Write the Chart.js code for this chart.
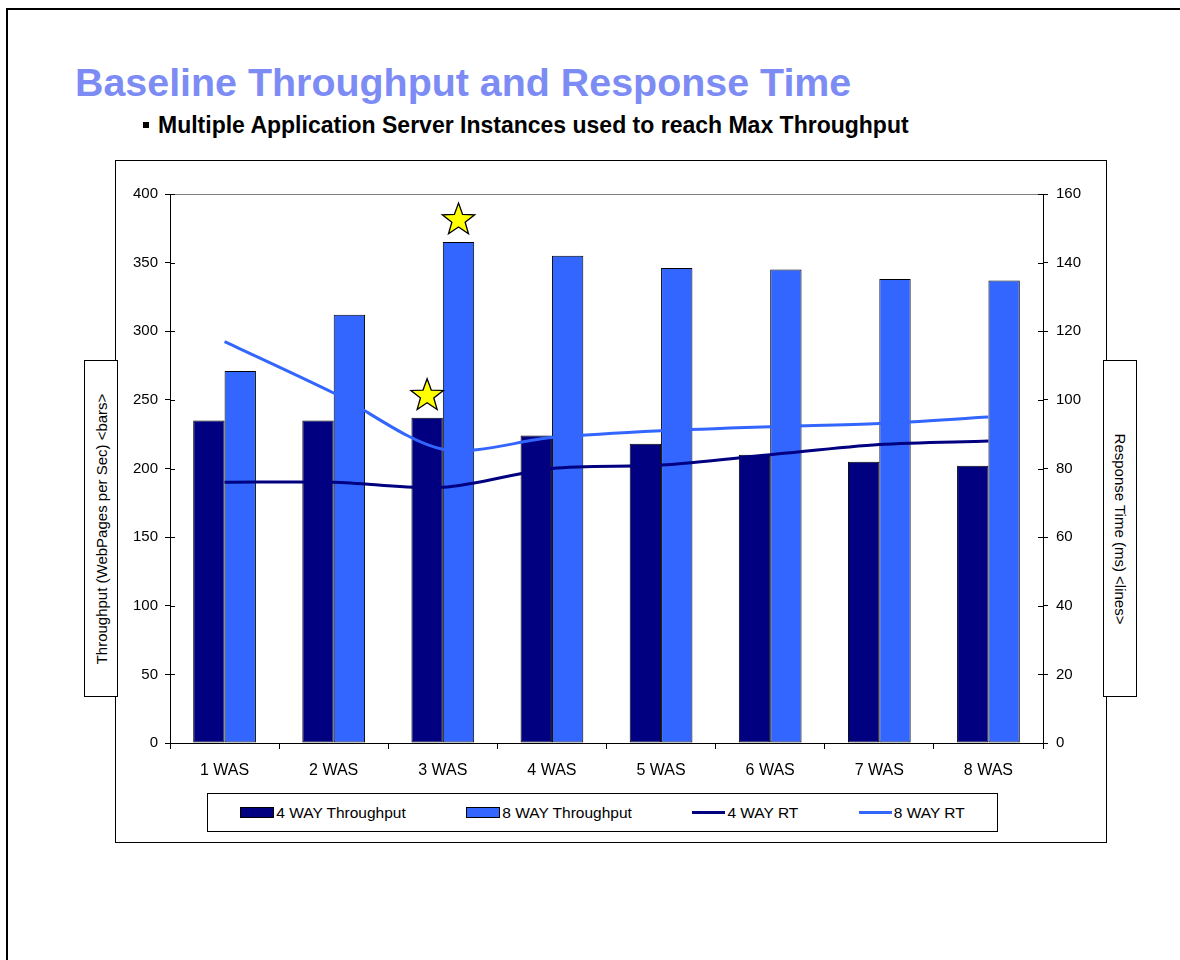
<!DOCTYPE html>
<html>
<head>
<meta charset="utf-8">
<script src="https://cdn.jsdelivr.net/npm/chart.js@4.4.1/dist/chart.umd.min.js"></script>
<style>
  body { margin: 0; background: #fff; font-family: "Liberation Sans", Arial, sans-serif; }
  #page { position: relative; width: 1180px; height: 960px; overflow: hidden; }
  #sheet { position: absolute; left: 6px; top: 8px; width: 1300px; height: 1100px; border-top: 2px solid #000; border-left: 2px solid #000; }
  #title { position: absolute; left: 75px; top: 63px; font-size: 39.4px; line-height: 39px; font-weight: bold; color: #7d8cf5; white-space: nowrap; }
  #subtitle { position: absolute; left: 158px; top: 112px; font-size: 23px; line-height: 26px; font-weight: bold; color: #000; white-space: nowrap; }
  #bullet { position: absolute; left: 143px; top: 122px; width: 6px; height: 6px; background: #000; }
  #frame { position: absolute; left: 115px; top: 160px; width: 992px; height: 683px; box-sizing: border-box; border: 1px solid #000; background: #fff; }
  #chart { position: absolute; left: 115px; top: 160px; }
  .axis-box { position: absolute; top: 360px; width: 34px; height: 337px; box-sizing: border-box; border: 1px solid #000; background: #fff; }
  .axis-box span { position: absolute; left: 50%; top: 50%; font-size: 15px; white-space: nowrap; }
  #ylab-left { left: 84px; }
  #ylab-left span { transform: translate(-50%, -50%) rotate(-90deg); }
  #ylab-right { left: 1103px; }
  #ylab-right span { transform: translate(-50%, -50%) rotate(90deg); }
  #legend { position: absolute; left: 207px; top: 793px; width: 791px; height: 39px; box-sizing: border-box; border: 1px solid #000; background: #fff;
            display: flex; justify-content: space-around; align-items: center; font-size: 15.5px; padding: 0 2px; }
  .item { display: flex; align-items: center; white-space: nowrap; }
  .sw-bar { width: 34px; height: 11px; box-sizing: border-box; border: 1px solid #000; margin-right: 2px; }
  .sw-line { width: 33px; height: 3px; margin-right: 2px; }
</style>
</head>
<body>
<div id="page">
  <div id="sheet"></div>
  <div id="title">Baseline Throughput and Response Time</div>
  <div id="bullet"></div>
  <div id="subtitle">Multiple Application Server Instances used to reach Max Throughput</div>
  <div id="frame"></div>
  <canvas id="chart" width="992" height="683"></canvas>
  <div class="axis-box" id="ylab-left"><span>Throughput (WebPages per Sec) &lt;bars&gt;</span></div>
  <div class="axis-box" id="ylab-right"><span>Response Time (ms) &lt;lines&gt;</span></div>
  <div id="legend"></div>
</div>
<script>
const categories = ["1 WAS", "2 WAS", "3 WAS", "4 WAS", "5 WAS", "6 WAS", "7 WAS", "8 WAS"]
const throughput4way = [235, 235, 237, 224, 218, 210, 205, 202]
const throughput8way = [271, 312, 365, 355, 346, 345, 338, 337]
const rt4way = [76, 76, 74.5, 80, 81, 84, 87, 88]
const rt8way = [117, 102, 85.6, 89, 91, 92.2, 93.1, 95]
// the starred bars: [dataset index, category index]
const starred = [[0, 2], [1, 2]]

const NAVY = "#000080"
const BLUE = "#3366ff"
const FONT = "'Liberation Sans', Arial, sans-serif"

// Excel-style ticks that cross the y axes
const crossTicks = {
  id: "crossTicks",
  afterDraw(chart) {
    const ctx = chart.ctx
    ctx.save()
    ctx.strokeStyle = "#000"
    ctx.lineWidth = 1
    for (const [id, dir] of [["y", 1], ["y1", -1]]) {
      const s = chart.scales[id]
      const x = id === "y" ? s.right : s.left
      s.ticks.forEach(t => {
        const y = Math.round(s.getPixelForValue(t.value)) + 0.5
        ctx.beginPath()
        ctx.moveTo(x, y)
        ctx.lineTo(x + dir * 5, y)
        ctx.stroke()
      })
    }
    ctx.restore()
  }
}

const stars = {
  id: "stars",
  afterDraw(chart) {
    const ctx = chart.ctx
    starred.forEach(([ds, i]) => {
      const bar = chart.getDatasetMeta(ds).data[i]
      const cx = bar.x
      const cy = bar.y - 22
      const R = 17, r = 7
      ctx.save()
      ctx.beginPath()
      for (let k = 0; k < 10; k++) {
        const rad = k % 2 ? r : R
        const a = -Math.PI / 2 + k * Math.PI / 5
        const px = cx + rad * Math.cos(a), py = cy + rad * Math.sin(a)
        k ? ctx.lineTo(px, py) : ctx.moveTo(px, py)
      }
      ctx.closePath()
      ctx.fillStyle = "#ffff00"
      ctx.fill()
      ctx.strokeStyle = "#000"
      ctx.lineWidth = 1.3
      ctx.stroke()
      ctx.restore()
    })
  }
}

const chart = new Chart(document.getElementById("chart"), {
  type: "bar",
  data: {
    labels: categories,
    datasets: [
      { label: "4 WAY Throughput", data: throughput4way, backgroundColor: NAVY, borderColor: "#000", borderWidth: 1, borderSkipped: false,
        yAxisID: "y", order: 1, categoryPercentage: 0.575, barPercentage: 1 },
      { label: "8 WAY Throughput", data: throughput8way, backgroundColor: BLUE, borderColor: "#000", borderWidth: 1, borderSkipped: false,
        yAxisID: "y", order: 1, categoryPercentage: 0.575, barPercentage: 1 },
      { type: "line", label: "4 WAY RT", data: rt4way, borderColor: NAVY, backgroundColor: NAVY, borderWidth: 3,
        pointRadius: 0, tension: 0.3, yAxisID: "y1", order: 0 },
      { type: "line", label: "8 WAY RT", data: rt8way, borderColor: BLUE, backgroundColor: BLUE, borderWidth: 3,
        pointRadius: 0, tension: 0.3, yAxisID: "y1", order: 0 }
    ]
  },
  options: {
    responsive: false,
    animation: false,
    layout: { padding: { top: 34, left: 0, right: 0, bottom: 60 } },
    plugins: { legend: { display: false }, tooltip: { enabled: false } },
    scales: {
      x: {
        afterFit: s => { s.height = 40 },
        border: { color: "#000", width: 1 },
        grid: { offset: true, drawOnChartArea: false, tickLength: 6, color: "#000" },
        ticks: { color: "#000", font: { family: FONT, size: 16 }, padding: 12, maxRotation: 0 }
      },
      y: {
        position: "left",
        min: 0, max: 400,
        afterFit: s => { s.width = 55 },
        border: { color: "#000", width: 1 },
        grid: { color: c => c.tick.value === 400 ? "#808080" : "transparent", tickColor: "#000", tickLength: 5 },
        ticks: { stepSize: 50, color: "#000", font: { family: FONT, size: 15 }, padding: 7 }
      },
      y1: {
        position: "right",
        min: 0, max: 160,
        afterFit: s => { s.width = 64 },
        border: { color: "#000", width: 1 },
        grid: { drawOnChartArea: false, tickColor: "#000", tickLength: 5 },
        ticks: { stepSize: 20, color: "#000", font: { family: FONT, size: 15 }, padding: 8 }
      }
    }
  },
  plugins: [crossTicks, stars]
})

// legend in the Excel layout, built from the chart's own datasets
const legend = document.getElementById("legend")
chart.data.datasets.forEach(ds => {
  const item = document.createElement("div")
  item.className = "item"
  const sw = document.createElement("div")
  sw.className = ds.type === "line" ? "sw-line" : "sw-bar"
  sw.style.background = ds.backgroundColor
  item.appendChild(sw)
  item.appendChild(document.createTextNode(ds.label))
  legend.appendChild(item)
})
</script>
</body>
</html>
